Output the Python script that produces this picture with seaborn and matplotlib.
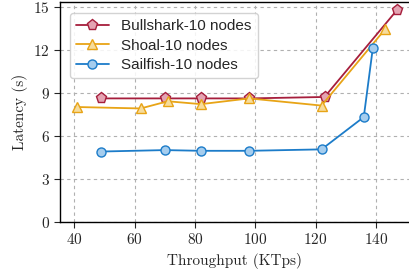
import matplotlib
matplotlib.use("Agg")
import matplotlib.pyplot as plt
import seaborn as sns
import pandas as pd

bull_x = [49, 70, 82, 98, 123, 147]
bull_y = [8.6, 8.6, 8.6, 8.6, 8.7, 14.75]
shoal_x = [41, 62, 71, 82, 98, 122, 143]
shoal_y = [8.0, 7.9, 8.4, 8.2, 8.6, 8.1, 13.4]
sail_x = [49, 70, 82, 98, 122, 136, 139]
sail_y = [4.9, 5.0, 4.95, 4.95, 5.05, 7.3, 12.1]
labels = ["Bullshark-10 nodes", "Shoal-10 nodes", "Sailfish-10 nodes"]
xticks = [40, 60, 80, 100, 120, 140]
yticks = [0, 3, 6, 9, 12, 15]

sns.set_style("ticks")
plt.rcParams["font.family"] = ["cmr10", "DejaVu Serif"]
plt.rcParams["axes.formatter.use_mathtext"] = True

fig = plt.figure(figsize=(4.09, 2.77), dpi=100)
ax = fig.add_axes([0.147, 0.199, 0.853, 0.793])

series = [
    (bull_x, bull_y, labels[0], "#a61e3c", "#e4a3b2", "p", 8),
    (shoal_x, shoal_y, labels[1], "#e8a416", "#f6dc9c", "^", 7),
    (sail_x, sail_y, labels[2], "#1c7cc9", "#a5cdee", "o", 6.5),
]
for xs, ys, lab, c, fc, m, ms in series:
    df = pd.DataFrame({"x": xs, "y": ys})
    sns.lineplot(data=df, x="x", y="y", ax=ax, color=c, marker=m,
                 markersize=ms, markerfacecolor=fc, markeredgecolor=c,
                 markeredgewidth=1.0, linewidth=1.3, label=lab, sort=False)

ax.set_xlim(35.3, 151)
ax.set_ylim(0, 15.3)
ax.set_xticks(xticks)
ax.set_yticks(yticks)
ax.tick_params(labelsize=11, length=4, width=0.8, direction="out")
ax.grid(True, linestyle=(0, (3, 3)), color="#b0b0b0", linewidth=0.8)
ax.set_axisbelow(True)
for s in ["left", "bottom", "top"]:
    ax.spines[s].set_linewidth(1.0)
    ax.spines[s].set_color("black")
ax.spines["right"].set_visible(False)
ax.set_xlabel("Throughput (KTps)", fontsize=11, labelpad=4)
ax.set_ylabel("Latency (s)", fontsize=11, labelpad=4)

leg = ax.legend(loc="upper left", bbox_to_anchor=(0.005, 0.985),
                prop={"family": "Liberation Sans", "size": 11},
                frameon=True, fancybox=True, framealpha=0.85,
                edgecolor="#cccccc", handlelength=2.2, borderpad=0.4,
                labelspacing=0.35)

fig.savefig("out.png", dpi=100)
